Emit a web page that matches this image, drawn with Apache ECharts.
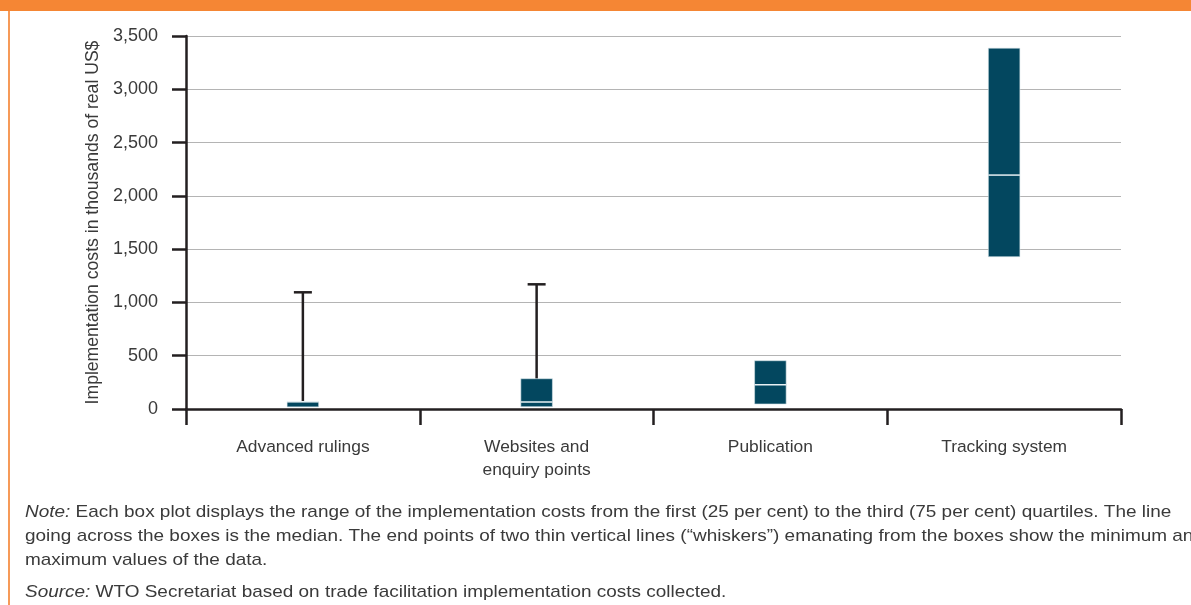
<!DOCTYPE html>
<html>
<head>
<meta charset="utf-8">
<script src="https://cdn.jsdelivr.net/npm/echarts@6/dist/echarts.min.js"></script>
<style>
html,body{margin:0;padding:0;background:#fff;}
#chart{width:1191px;height:605px;}
</style>
</head>
<body>
<div id="chart"></div>
<script>
const categories = ['Advanced rulings', 'Websites and\nenquiry points', 'Publication', 'Tracking system'];
const minValues = [20, 22, 47, 1429];
const q1Values = [20, 22, 47, 1429];
const medianValues = [68, 66, 228, 2195];
const q3Values = [68, 284, 453, 3386];
const maxValues = [1095, 1170, 453, 3386];
const yTicks = [0, 500, 1000, 1500, 2000, 2500, 3000, 3500];

const noteLines = [
  'Each box plot displays the range of the implementation costs from the first (25 per cent) to the third (75 per cent) quartiles. The line',
  'going across the boxes is the median. The end points of two thin vertical lines (\u201cwhiskers\u201d) emanating from the boxes show the minimum and',
  'maximum values of the data.'
];
const sourceText = 'WTO Secretariat based on trade facilitation implementation costs collected.';

const FONT = 'Liberation Sans, Arial, sans-serif';
const TEXT = '#3a3a3a';
const DARK = '#231f20';
const BOX = '#03475f';
const NOTE_SCALE = 1.115;

const boxData = categories.map((c, i) => [i, minValues[i], q1Values[i], medianValues[i], q3Values[i], maxValues[i]]);

function renderBox(params, api) {
  const i = api.value(0);
  const vMin = api.value(1), vQ1 = api.value(2), vMed = api.value(3), vQ3 = api.value(4), vMax = api.value(5);
  const pQ1 = api.coord([i, vQ1]);
  const pQ3 = api.coord([i, vQ3]);
  const pMed = api.coord([i, vMed]);
  const pMax = api.coord([i, vMax]);
  const pMin = api.coord([i, vMin]);
  const w = api.size([1, 0])[0] * 0.135;
  const cap = 18;
  const x = pQ1[0];
  const children = [];
  if (vMax > vQ3) {
    children.push({ type: 'line', shape: { x1: x, y1: pQ3[1], x2: x, y2: pMax[1] }, style: { stroke: DARK, lineWidth: 2.5 } });
    children.push({ type: 'line', shape: { x1: x - cap / 2, y1: pMax[1], x2: x + cap / 2, y2: pMax[1] }, style: { stroke: DARK, lineWidth: 2.5 } });
  }
  if (vMin < vQ1) {
    children.push({ type: 'line', shape: { x1: x, y1: pQ1[1], x2: x, y2: pMin[1] }, style: { stroke: DARK, lineWidth: 2.5 } });
    children.push({ type: 'line', shape: { x1: x - cap / 2, y1: pMin[1], x2: x + cap / 2, y2: pMin[1] }, style: { stroke: DARK, lineWidth: 2.5 } });
  }
  children.push({ type: 'rect', shape: { x: x - w / 2, y: pQ3[1], width: w, height: pQ1[1] - pQ3[1] }, style: { fill: BOX, stroke: '#d8e4ea', lineWidth: 0.6 } });
  children.push({ type: 'line', shape: { x1: x - w / 2, y1: pMed[1], x2: x + w / 2, y2: pMed[1] }, style: { stroke: '#e8f0f3', lineWidth: 1.5 } });
  return { type: 'group', children };
}

const chart = echarts.init(document.getElementById('chart'), null, { renderer: 'canvas' });

function noteText(y, text) {
  return {
    type: 'text', x: 25, y: y, scaleX: NOTE_SCALE, originX: 0,
    style: {
      text: text,
      font: '17px ' + FONT, fill: TEXT, verticalAlign: 'middle',
      rich: { i: { fontStyle: 'italic', fontSize: 17, fontFamily: FONT, fill: TEXT } }
    }, silent: true
  };
}

const graphics = [
  { type: 'rect', left: 0, top: 0, shape: { x: 0, y: 0, width: 1191, height: 11 }, style: { fill: '#f58634' }, silent: true },
  { type: 'rect', left: 8, top: 11, shape: { x: 0, y: 0, width: 2, height: 594 }, style: { fill: '#f69a58' }, silent: true },
  noteText(512, '{i|Note:} ' + noteLines[0]),
  noteText(536, noteLines[1]),
  noteText(560, noteLines[2]),
  noteText(592, '{i|Source:} ' + sourceText)
];

chart.setOption({
  animation: false,
  backgroundColor: '#ffffff',
  grid: { left: 186, right: 70, top: 36, bottom: 196, containLabel: false },
  xAxis: {
    type: 'category',
    data: categories,
    boundaryGap: true,
    axisLine: { lineStyle: { color: DARK, width: 2.5 } },
    axisTick: { show: true, length: 16, lineStyle: { color: DARK, width: 2.5 } },
    axisLabel: { color: TEXT, fontSize: 17.4, fontFamily: FONT, margin: 27, lineHeight: 23 },
    splitLine: { show: false }
  },
  yAxis: {
    type: 'value',
    min: yTicks[0],
    max: yTicks[yTicks.length - 1],
    interval: 500,
    name: 'Implementation costs in thousands of real US$',
    nameLocation: 'middle',
    nameGap: 74,
    nameTextStyle: { color: TEXT, fontSize: 17.6, fontFamily: FONT },
    axisLine: { show: true, lineStyle: { color: DARK, width: 2.5 } },
    axisTick: { show: true, length: 14, lineStyle: { color: DARK, width: 2.5 } },
    axisLabel: {
      color: TEXT, fontSize: 18, fontFamily: FONT, margin: 28,
      formatter: v => v.toLocaleString('en-US')
    },
    splitLine: { show: true, lineStyle: { color: '#b4b4b4', width: 1.2 } }
  },
  series: [{
    type: 'custom',
    renderItem: renderBox,
    data: boxData,
    encode: { x: 0, y: [1, 2, 3, 4, 5] },
    z: 5
  }],
  graphic: graphics
});
</script>
</body>
</html>
